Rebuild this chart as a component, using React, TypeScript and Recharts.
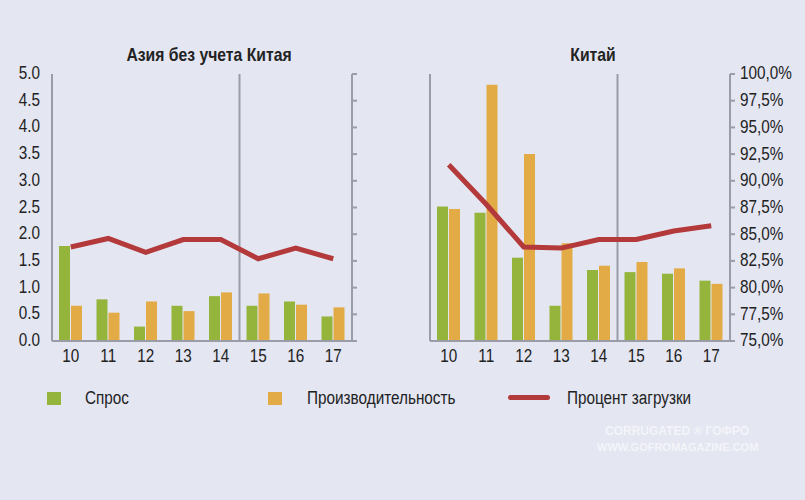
import React from 'react';
import {
  ComposedChart,
  Bar,
  Line,
  XAxis,
  YAxis,
  ReferenceLine,
} from 'recharts';

const years = ['10', '11', '12', '13', '14', '15', '16', '17'];

// Азия без учета Китая
const asiaDemand = [1.78, 0.78, 0.27, 0.66, 0.84, 0.66, 0.74, 0.46];
const asiaCapacity = [0.66, 0.53, 0.74, 0.56, 0.91, 0.89, 0.68, 0.63];
const asiaUtil = [83.8, 84.6, 83.3, 84.5, 84.5, 82.7, 83.7, 82.7];

// Китай
const chinaDemand = [2.52, 2.4, 1.56, 0.66, 1.33, 1.29, 1.26, 1.13];
const chinaCapacity = [2.47, 4.8, 3.5, 1.83, 1.41, 1.48, 1.36, 1.07];
const chinaUtil = [91.5, 87.8, 83.8, 83.7, 84.5, 84.5, 85.3, 85.8];

const leftTicks = [0, 0.5, 1, 1.5, 2, 2.5, 3, 3.5, 4, 4.5, 5];
const pctTicks = [75, 77.5, 80, 82.5, 85, 87.5, 90, 92.5, 95, 97.5, 100];

const GREEN = '#94b43c';
const ORANGE = '#e3ab45';
const RED = '#b3393a';
const AXIS = '#9a9ca8';
const BG = '#e4e6f2';
const FONT = '"Liberation Sans", Arial, sans-serif';
const SQUEEZE = 0.85; // the original uses a condensed face

const buildRows = (demand: number[], capacity: number[], util: number[]) =>
  years.map((y, i) => ({ year: y, demand: demand[i], capacity: capacity[i], util: util[i] }));

const asiaRows = buildRows(asiaDemand, asiaCapacity, asiaUtil);
const chinaRows = buildRows(chinaDemand, chinaCapacity, chinaUtil);

const fmtPct = (v: number) => v.toFixed(1).replace('.', ',') + '%';

// narrow tick label drawn with a horizontal squeeze
const makeTick =
  (fmt: (v: any) => string, anchor: 'start' | 'middle' | 'end', dy: string) =>
  (props: any) => {
    const label = fmt(props.payload.value);
    if (!label) return <g />;
    return (
      <g transform={`translate(${props.x},${props.y})`}>
        <text
          transform={`scale(${SQUEEZE},1)`}
          textAnchor={anchor}
          dy={dy}
          fontSize={18}
          fontFamily={FONT}
          fill="#222"
        >
          {label}
        </text>
      </g>
    );
  };

const xTick = makeTick((v) => String(v), 'middle', '0.71em');
const leftTick = makeTick((v: number) => v.toFixed(1), 'end', '0.28em');
const rightTick = makeTick(fmtPct, 'start', '0.3em');
const noTick = makeTick(() => '', 'start', '0');

const Panel: React.FC<{ rows: any[]; china?: boolean }> = ({ rows, china }) => (
  <ComposedChart
    width={china ? 425 : 400}
    height={380}
    data={rows}
    margin={{ top: 74, right: 0, bottom: 9, left: 0 }}
    barSize={11}
    barGap={1}
  >
    <XAxis
      dataKey="year"
      stroke={AXIS}
      strokeWidth={2}
      tickLine={false}
      tickMargin={2}
      height={30}
      tick={xTick}
      interval={0}
    />
    <YAxis
      yAxisId="left"
      orientation="left"
      domain={[0, 5]}
      ticks={leftTicks}
      width={china ? 50 : 52}
      stroke={AXIS}
      strokeWidth={2}
      tickLine={false}
      tickMargin={6}
      tick={china ? noTick : leftTick}
      interval={0}
    />
    <YAxis
      yAxisId="right"
      orientation="right"
      domain={[75, 100]}
      ticks={pctTicks}
      width={china ? 75 : 48}
      stroke={AXIS}
      strokeWidth={2}
      tickSize={5}
      tickMargin={5}
      tick={china ? rightTick : noTick}
      interval={0}
    />
    <ReferenceLine yAxisId="left" x="15" position="start" stroke={AXIS} strokeWidth={2} />
    <Bar yAxisId="left" dataKey="demand" fill={GREEN} isAnimationActive={false} />
    <Bar yAxisId="left" dataKey="capacity" fill={ORANGE} isAnimationActive={false} />
    <Line
      yAxisId="right"
      type="linear"
      dataKey="util"
      stroke={RED}
      strokeWidth={5}
      dot={false}
      isAnimationActive={false}
    />
  </ComposedChart>
);

const squeezed = (origin: string): React.CSSProperties => ({
  transform: `scaleX(${SQUEEZE})`,
  transformOrigin: origin,
  whiteSpace: 'nowrap',
});

const legendText: React.CSSProperties = {
  position: 'absolute',
  top: 388,
  fontSize: 18,
  color: '#222',
  ...squeezed('left center'),
};

const titleStyle: React.CSSProperties = {
  position: 'absolute',
  top: 44,
  textAlign: 'center',
  fontWeight: 'bold',
  fontSize: 18.5,
  color: '#222',
  ...squeezed('center center'),
};

export default function App() {
  return (
    <div
      style={{
        position: 'relative',
        width: 805,
        height: 500,
        background: BG,
        overflow: 'hidden',
        fontFamily: FONT,
      }}
    >
      <style>{'body{margin:0}'}</style>
      <div style={{ position: 'absolute', left: 0, top: 0 }}>
        <Panel rows={asiaRows} />
      </div>
      <div style={{ position: 'absolute', left: 380, top: 0 }}>
        <Panel rows={chinaRows} china />
      </div>

      <div style={{ ...titleStyle, left: 89, width: 240 }}>Азия без учета Китая</div>
      <div style={{ ...titleStyle, left: 543, width: 100 }}>Китай</div>

      <div style={{ position: 'absolute', left: 47, top: 392, width: 14, height: 13, background: GREEN }} />
      <div style={{ ...legendText, left: 85 }}>Спрос</div>
      <div style={{ position: 'absolute', left: 268, top: 392, width: 14, height: 13, background: ORANGE }} />
      <div style={{ ...legendText, left: 307 }}>Производительность</div>
      <div
        style={{
          position: 'absolute',
          left: 508,
          top: 395,
          width: 42,
          height: 5,
          borderRadius: 3,
          background: RED,
        }}
      />
      <div style={{ ...legendText, left: 567 }}>Процент загрузки</div>

      <div
        style={{
          position: 'absolute',
          left: 597,
          top: 423,
          width: 160,
          textAlign: 'center',
          color: 'rgba(255,255,255,0.6)',
          fontWeight: 'bold',
          fontSize: 12,
          lineHeight: '16px',
        }}
      >
        <div>CORRUGATED ® ГОФРО</div>
        <div style={{ fontSize: 11 }}>WWW.GOFROMAGAZINE.COM</div>
      </div>
    </div>
  );
}
